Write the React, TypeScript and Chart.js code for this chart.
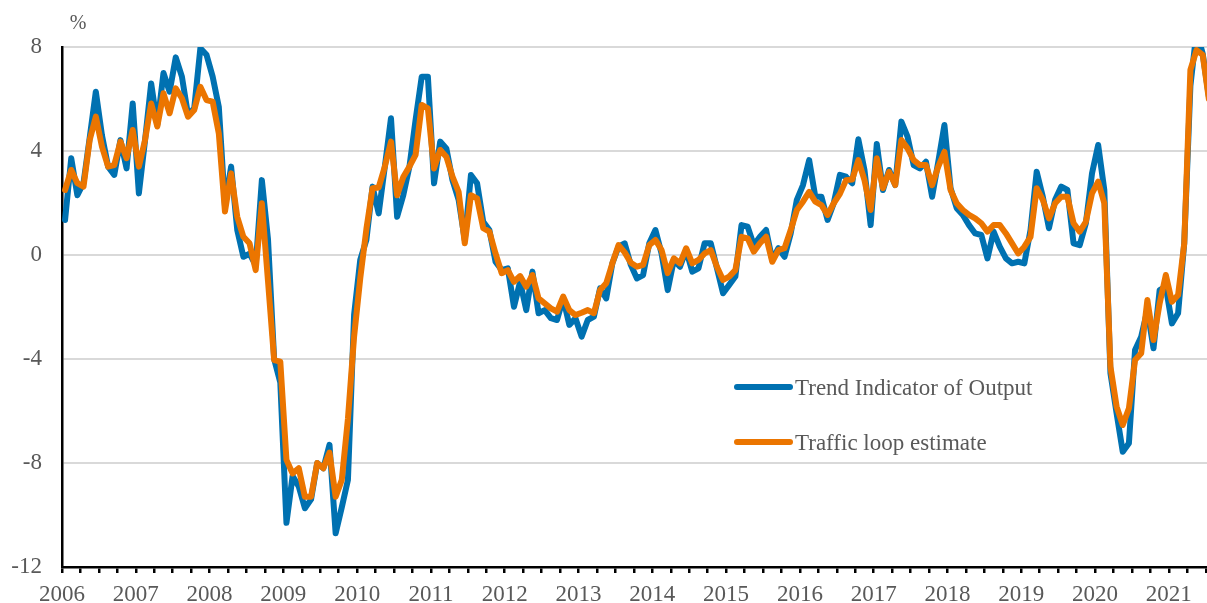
import React, { useEffect, useRef } from 'react';
import { Chart, registerables } from 'chart.js';

Chart.register(...registerables);

// Year labels on the x axis (one per January)
const YEARS = ['2006', '2007', '2008', '2009', '2010', '2011', '2012', '2013', '2014', '2015', '2016', '2017', '2018', '2019', '2020', '2021'];

// Monthly values, Jan 2006 - Jul 2021 (% change)
const TIO = [
  1.35, 3.72, 2.3, 2.77, 4.5, 6.28, 4.6, 3.4, 3.08, 4.42,
  3.33, 5.83, 2.37, 4.4, 6.6, 5.0, 7.0, 6.28, 7.6, 6.86,
  5.38, 5.64, 7.95, 7.7, 6.86, 5.7, 1.9, 3.4, 0.96, -0.07,
  0.05, -0.4, 2.88, 0.6, -4.0, -4.9, -10.3, -8.5, -8.9, -9.74,
  -9.4, -8.0, -8.2, -7.3, -10.7, -9.7, -8.65, -2.3, -0.19, 0.58,
  2.63, 1.6, 3.4, 5.26, 1.47, 2.3, 3.4, 5.2, 6.86, 6.86,
  2.76, 4.36, 4.1, 2.88, 2.12, 0.58, 3.08, 2.76, 1.28, 0.96,
  -0.26, -0.58, -0.51, -1.99, -1.03, -2.12, -0.64, -2.24, -2.12, -2.43,
  -2.5, -1.67, -2.69, -2.43, -3.14, -2.5, -2.37, -1.28, -1.67, -0.32,
  0.32, 0.45, -0.38, -0.9, -0.77, 0.45, 0.96, 0.06, -1.35, -0.19,
  -0.45, 0.19, -0.64, -0.51, 0.45, 0.45, -0.5, -1.47, -1.15, -0.83,
  1.15, 1.09, 0.38, 0.7, 0.96, -0.19, 0.26, -0.07, 0.83, 2.12,
  2.69, 3.65, 2.24, 2.24, 1.35, 1.99, 3.08, 3.01, 2.76, 4.45,
  3.27, 1.15, 4.27, 2.5, 3.27, 2.69, 5.13, 4.55, 3.46, 3.33,
  3.59, 2.24, 3.59, 5.0, 2.57, 1.8, 1.54, 1.15, 0.83, 0.77,
  -0.13, 0.9, 0.32, -0.13, -0.32, -0.26, -0.32, 0.96, 3.2, 2.24,
  1.03, 2.12, 2.63, 2.5, 0.45, 0.38, 1.22, 3.14, 4.23, 2.5,
  -4.55, -6.09, -7.57, -7.24, -3.65, -3.14, -2.12, -3.59, -1.35, -1.22,
  -2.63, -2.24, 0.45, 6.5, 8.6, 7.75, 6.1,
];

const TRAFFIC = [
  2.5, 3.27, 2.76, 2.63, 4.42, 5.32, 4.17, 3.4, 3.46, 4.36,
  3.72, 4.81, 3.4, 4.42, 5.83, 4.94, 6.22, 5.45, 6.41, 6.03,
  5.32, 5.58, 6.47, 5.96, 5.9, 4.68, 1.67, 3.14, 1.47, 0.7,
  0.45, -0.58, 1.99, -1.0, -4.04, -4.1, -7.88, -8.4, -8.2, -9.3,
  -9.3, -8.0, -8.2, -7.6, -9.3, -8.65, -6.3, -3.14, -0.9, 1.0,
  2.57, 2.6, 3.4, 4.36, 2.3, 3.0, 3.4, 3.85, 5.77, 5.64,
  3.33, 4.04, 3.78, 3.01, 2.43, 0.45, 2.3, 2.18, 1.03, 0.9,
  0.06, -0.7, -0.58, -1.03, -0.81, -1.22, -0.77, -1.67, -1.86, -2.05,
  -2.18, -1.6, -2.12, -2.31, -2.22, -2.12, -2.24, -1.35, -1.09, -0.32,
  0.38, 0.1, -0.3, -0.45, -0.38, 0.38, 0.58, 0.19, -0.7, -0.13,
  -0.32, 0.26, -0.32, -0.19, 0.06, 0.19, -0.45, -0.96, -0.83, -0.58,
  0.7, 0.64, 0.13, 0.45, 0.7, -0.26, 0.19, 0.26, 0.96, 1.73,
  2.05, 2.43, 2.05, 1.92, 1.54, 1.99, 2.35, 2.88, 2.9, 3.65,
  2.88, 1.73, 3.72, 2.57, 3.2, 2.69, 4.42, 4.1, 3.65, 3.46,
  3.46, 2.69, 3.4, 3.97, 2.5, 1.99, 1.73, 1.54, 1.41, 1.22,
  0.9, 1.15, 1.15, 0.83, 0.45, 0.06, 0.32, 0.7, 2.57, 2.12,
  1.41, 1.99, 2.24, 2.24, 1.22, 0.9, 1.28, 2.37, 2.82, 1.99,
  -4.3, -5.83, -6.54, -5.9, -4.04, -3.78, -1.73, -3.27, -1.86, -0.77,
  -1.8, -1.54, 0.45, 7.12, 7.88, 7.7, 6.0,
];

const SERIES_NAMES = ['Trend Indicator of Output', 'Traffic loop estimate'];
const Y_TICKS = [8, 4, 0, -4, -8, -12];
const UNIT_LABEL = '%';

const BLUE = '#0071B1';
const ORANGE = '#EB7500';
const TEXT = '#595959';
const FONT = "'Liberation Serif', 'Times New Roman', serif";

const overlayPlugin = {
  id: 'overlay',
  afterDraw(chart: any) {
    const { ctx, chartArea } = chart;
    ctx.save();
    ctx.fillStyle = TEXT;
    ctx.font = `20px ${FONT}`;
    ctx.textAlign = 'center';
    ctx.textBaseline = 'alphabetic';
    ctx.fillText(UNIT_LABEL, chartArea.left + 16, chartArea.top - 18);

    const colors = [BLUE, ORANGE];
    SERIES_NAMES.forEach((name, i) => {
      const y = chartArea.top + 340 + i * 55;
      const x0 = chartArea.left + 675;
      ctx.strokeStyle = colors[i];
      ctx.lineWidth = 6;
      ctx.lineCap = 'round';
      ctx.beginPath();
      ctx.moveTo(x0, y);
      ctx.lineTo(x0 + 53, y);
      ctx.stroke();
      ctx.fillStyle = TEXT;
      ctx.font = `23px ${FONT}`;
      ctx.textAlign = 'left';
      ctx.textBaseline = 'alphabetic';
      ctx.fillText(name, x0 + 58, y + 8);
    });
    ctx.restore();
  },
};

export default function App() {
  const canvasRef = useRef<HTMLCanvasElement | null>(null);

  useEffect(() => {
    const canvas = canvasRef.current;
    if (!canvas) return;
    const toPoints = (arr: number[]) => arr.map((v, i) => ({ x: i + 0.5, y: v }));
    const chart = new Chart(canvas, {
      type: 'line',
      data: {
        datasets: [
          {
            label: SERIES_NAMES[0],
            data: toPoints(TIO),
            borderColor: BLUE,
            backgroundColor: BLUE,
            borderWidth: 6,
            order: 2,
          },
          {
            label: SERIES_NAMES[1],
            data: toPoints(TRAFFIC),
            borderColor: ORANGE,
            backgroundColor: ORANGE,
            borderWidth: 6,
            order: 1,
          },
        ],
      },
      options: {
        animation: false,
        responsive: false,
        devicePixelRatio: 1,
        layout: { padding: { top: 47, right: 0, left: 0, bottom: 0 } },
        plugins: {
          legend: { display: false },
          tooltip: { enabled: false },
        },
        elements: {
          point: { radius: 0, hoverRadius: 0 },
          line: { tension: 0, borderJoinStyle: 'round', borderCapStyle: 'round' },
        },
        scales: {
          x: {
            type: 'linear',
            min: 0,
            max: 186.2,
            afterBuildTicks: (s: any) => {
              const t = [];
              for (let k = 0; k <= 62; k++) t.push({ value: 3 * k });
              s.ticks = t;
            },
            afterFit: (s: any) => {
              s.height = 36;
              s.paddingLeft = 0;
              s.paddingRight = 0;
            },
            ticks: {
              autoSkip: false,
              maxRotation: 0,
              minRotation: 0,
              padding: 8,
              color: TEXT,
              font: { family: FONT, size: 23 },
              callback: (v: any) => (Number(v) % 12 === 0 ? YEARS[Number(v) / 12] ?? '' : ''),
            },
            grid: {
              drawOnChartArea: false,
              drawTicks: true,
              tickLength: 6,
              color: '#000',
              lineWidth: 2.5,
            },
            border: { display: true, color: '#000', width: 2.5 },
          },
          y: {
            min: -12,
            max: 8,
            afterBuildTicks: (s: any) => {
              s.ticks = Y_TICKS.map((v) => ({ value: v }));
            },
            afterFit: (s: any) => {
              s.width = 62;
            },
            ticks: {
              padding: 20,
              color: TEXT,
              font: { family: FONT, size: 23 },
              callback: (v: any) => String(v),
            },
            grid: {
              drawTicks: false,
              lineWidth: 2,
              color: (c: any) => (c.tick && c.tick.value === -12 ? 'rgba(0,0,0,0)' : '#D9D9D9'),
            },
            border: { display: true, color: '#000', width: 2.5 },
          },
        },
      },
      plugins: [overlayPlugin],
    } as any);
    return () => chart.destroy();
  }, []);

  return (
    <div style={{ position: 'fixed', left: 0, top: 0, width: 1207, height: 603, background: '#fff' }}>
      <canvas ref={canvasRef} width={1207} height={603} style={{ display: 'block' }} />
    </div>
  );
}
